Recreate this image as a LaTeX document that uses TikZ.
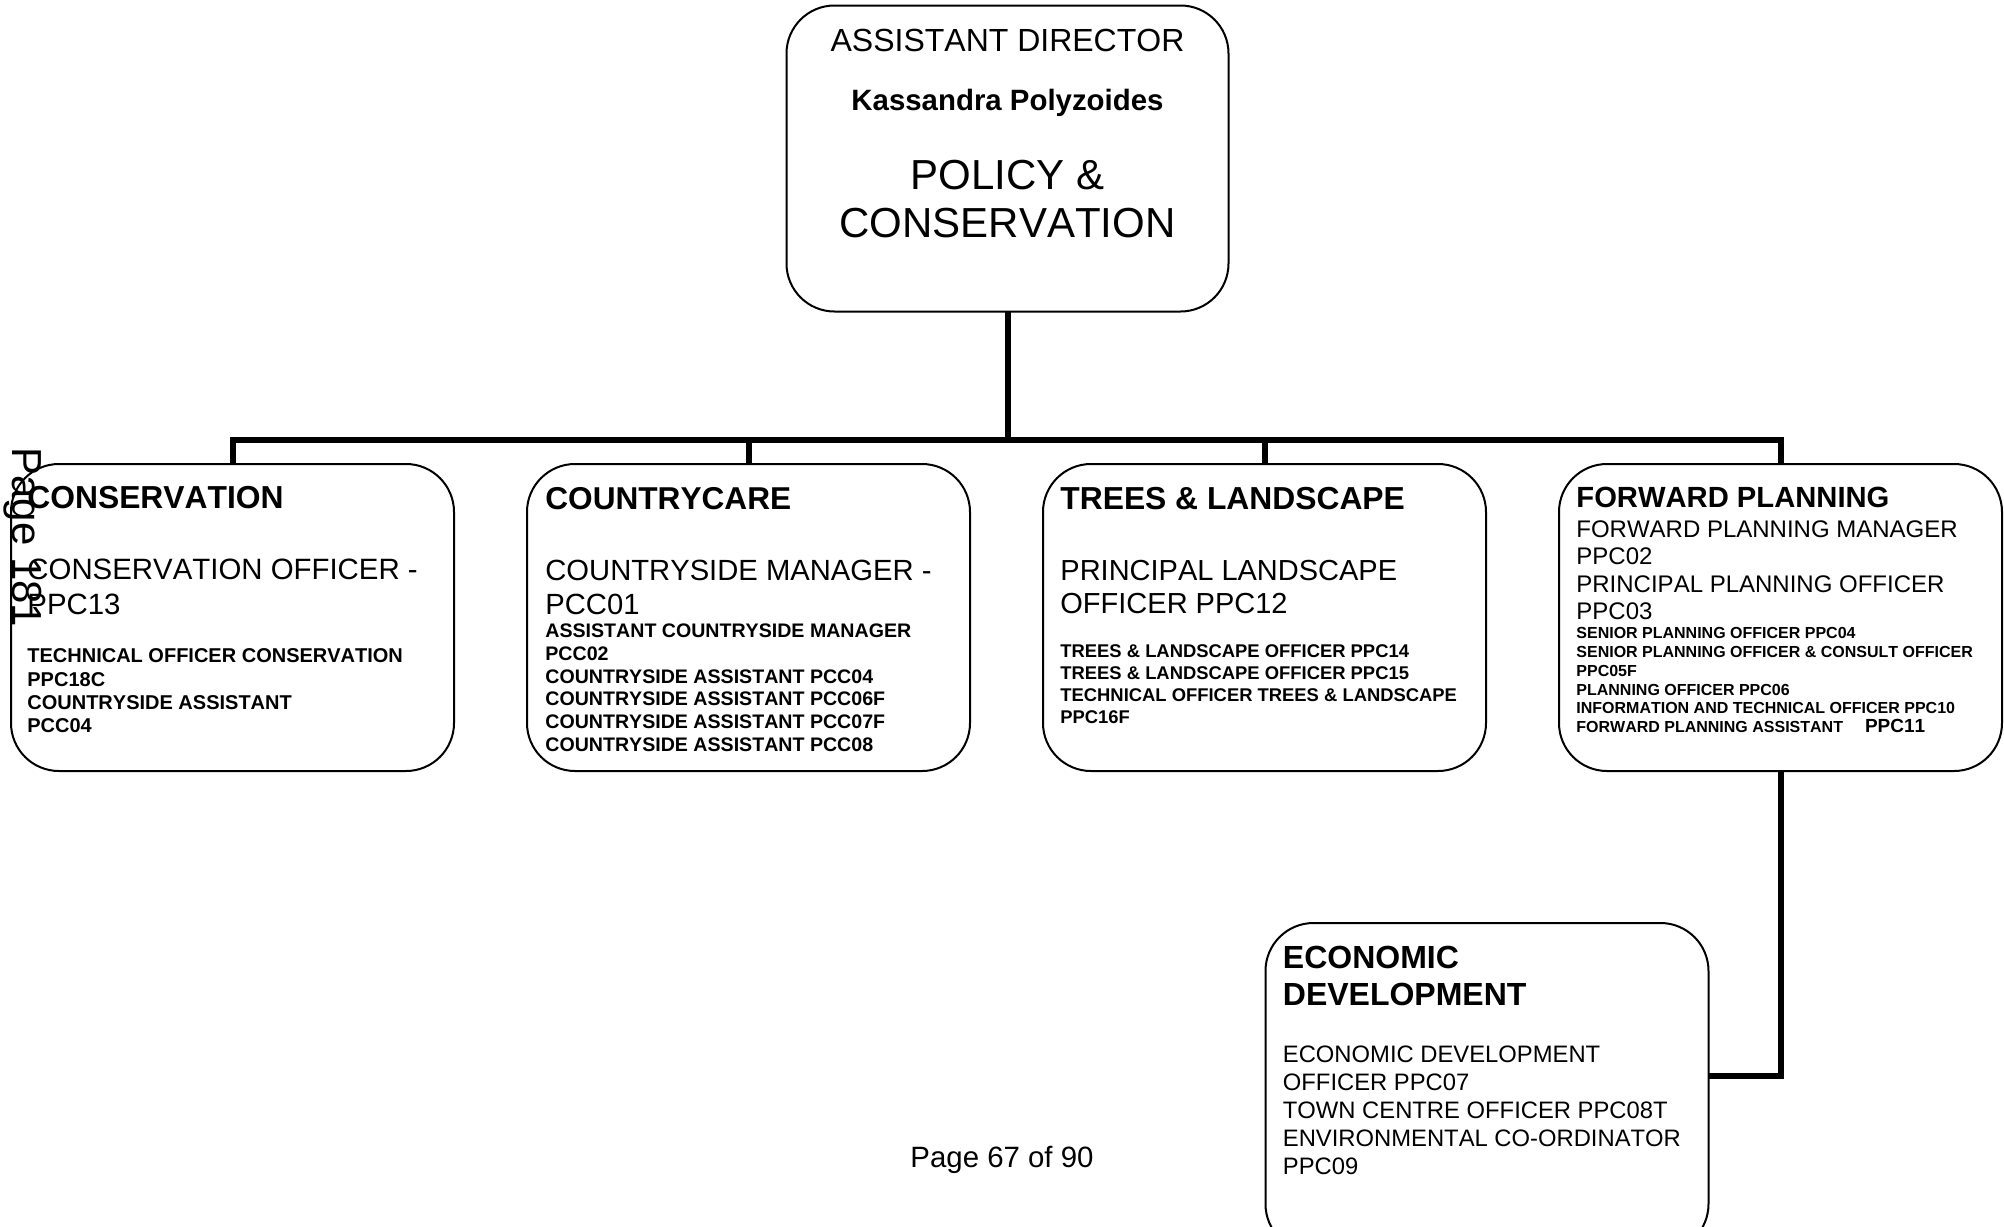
\documentclass[tikz,border=0pt]{standalone}
\usepackage{fontspec}
\setmainfont{Liberation Sans}[Kerning=Off]
\usepackage{tikz}
\usetikzlibrary{positioning}
\newcommand{\fsz}[2]{\fontsize{#1}{#2}\selectfont}

\begin{document}
\begin{tikzpicture} [
      inner sep = 0,
      node distance = 36.5pt,
      unit/.style = { draw, line width = 1pt, outer sep = 0, rounded corners = 24pt, minimum width = 221.5pt, minimum height = 153.5pt },
      link/.style = { line width = 3pt },
      txt/.style = { anchor = north west, align = left }
      ]

      \useasboundingbox (0,0) rectangle (1002pt,-613.5pt);

      \node [unit, minimum width = 221pt, minimum height = 153pt] (ad) at (503.75pt,-79.25pt) {};
      \node [font = \fsz{16}{19}, anchor = base] (adtitle) at ([yshift=-23pt]ad.north) {ASSISTANT DIRECTOR};
      \node [font = \fsz{14.7}{17}\bfseries, anchor = base] (adname) at ([yshift=-52.5pt]ad.north) {Kassandra Polyzoides};
      \node [font = \fsz{21}{24}, align = center, anchor = north] (adunit) at ([yshift=-77.1pt]ad.north) {POLICY \&\\CONSERVATION};

      \node [unit] (cons) at (116.25pt,-308.75pt) {};
      \node [unit, right = of cons] (cc) {};
      \node [unit, right = of cc] (tl) {};
      \node [unit, right = of tl] (fp) {};
      \node [unit, minimum height = 164.5pt] (ed) at (743.5pt,-543.75pt) {};

      \coordinate (bar) at (503.75pt,-220pt);
      \draw [link] (ad.south) -- (bar);
      \draw [link] (cons.north) |- (bar) -| (fp.north);
      \draw [link] (cc.north) -- (cc.north |- bar);
      \draw [link] (tl.north) -- (tl.north |- bar);
      \draw [link] (fp.south) |- ([yshift=5.75pt]ed.east);

      \node [txt, font = \fsz{15.9}{18}\bfseries] (conshead) at ([shift={(8pt,-11pt)}]cons.north west) {CONSERVATION};
      \node [txt, font = \fsz{14.7}{17.5}] (consrole) at ([shift={(8pt,-47.5pt)}]cons.north west) {CONSERVATION OFFICER -\\PPC13};
      \node [txt, font = \fsz{10}{11.67}\bfseries] (conslist) at ([shift={(8pt,-92.3pt)}]cons.north west) {TECHNICAL OFFICER CONSERVATION\\PPC18C\\COUNTRYSIDE ASSISTANT\\PCC04};

      \node [txt, font = \fsz{15.8}{18}\bfseries] (cchead) at ([shift={(9pt,-11.6pt)}]cc.north west) {COUNTRYCARE};
      \node [txt, font = \fsz{14.6}{17}] (ccrole) at ([shift={(9pt,-47.7pt)}]cc.north west) {COUNTRYSIDE MANAGER -\\PCC01};
      \node [txt, font = \fsz{9.8}{11.35}\bfseries] (cclist) at ([shift={(9pt,-79.8pt)}]cc.north west) {ASSISTANT COUNTRYSIDE MANAGER\\PCC02\\COUNTRYSIDE ASSISTANT PCC04\\COUNTRYSIDE ASSISTANT PCC06F\\COUNTRYSIDE ASSISTANT PCC07F\\COUNTRYSIDE ASSISTANT PCC08};

      \node [txt, font = \fsz{15.9}{18}\bfseries] (tlhead) at ([shift={(8.5pt,-11.6pt)}]tl.north west) {TREES \& LANDSCAPE};
      \node [txt, font = \fsz{14.5}{16.5}] (tlrole) at ([shift={(8.5pt,-47.8pt)}]tl.north west) {PRINCIPAL LANDSCAPE\\OFFICER PPC12};
      \node [txt, font = \fsz{9.2}{10.9}\bfseries] (tllist) at ([shift={(8.5pt,-90.2pt)}]tl.north west) {TREES \& LANDSCAPE OFFICER PPC14\\TREES \& LANDSCAPE OFFICER PPC15\\TECHNICAL OFFICER TREES \& LANDSCAPE\\PPC16F};

      \node [txt, font = \fsz{14.6}{17}\bfseries] (fphead) at ([shift={(8.5pt,-11.4pt)}]fp.north west) {FORWARD PLANNING};
      \node [txt, font = \fsz{12}{13.6}] (fprole) at ([shift={(8.5pt,-28.3pt)}]fp.north west) {FORWARD PLANNING MANAGER\\PPC02\\PRINCIPAL PLANNING OFFICER\\PPC03};
      \node [txt, font = \fsz{8}{9.4}\bfseries] (fplist) at ([shift={(8.5pt,-81.6pt)}]fp.north west) {SENIOR PLANNING OFFICER PPC04\\SENIOR PLANNING OFFICER \& CONSULT OFFICER\\PPC05F\\PLANNING OFFICER PPC06\\INFORMATION AND TECHNICAL OFFICER PPC10\\FORWARD PLANNING ASSISTANT\hspace{11pt}{\fsz{9.5}{9.4}PPC11}};

      \node [txt, font = \fsz{16}{18.4}\bfseries] (edhead) at ([shift={(8.5pt,-11.4pt)}]ed.north west) {ECONOMIC\\DEVELOPMENT};
      \node [txt, font = \fsz{11.9}{13.9}] (edrole) at ([shift={(8.5pt,-61.4pt)}]ed.north west) {ECONOMIC DEVELOPMENT\\OFFICER PPC07\\TOWN CENTRE OFFICER PPC08T\\ENVIRONMENTAL CO-ORDINATOR\\PPC09};

      \node [font = \fsz{14.7}{17}, anchor = base] (pgno) at (501pt,-583.5pt) {Page 67 of 90};
      \node [font = \fsz{21}{24}, rotate = -90, anchor = base west] (pgside) at (6pt,-223.5pt) {Page 181};
    \end{tikzpicture}
\end{document}
